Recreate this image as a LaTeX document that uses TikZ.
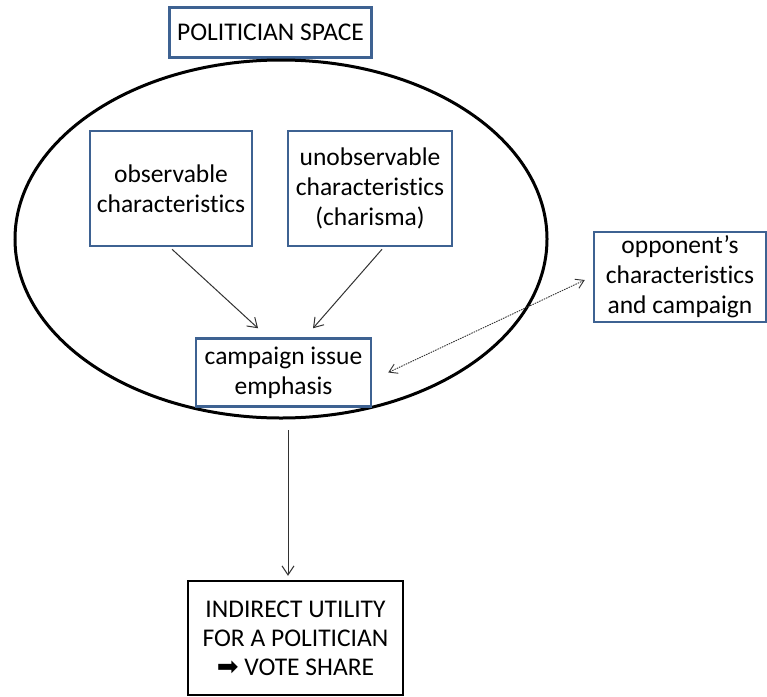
\documentclass[tikz,border=0pt]{standalone}
\usepackage{fontspec}
\setmainfont{Carlito}[Ligatures=NoCommon]
\newfontfamily\symfont{DejaVu Sans}
\usetikzlibrary{arrows.meta}
\definecolor{boxblue}{RGB}{62,98,146}
\definecolor{arrgray}{RGB}{50,50,50}
\begin{document}
\begin{tikzpicture}[x=1pt,y=-1pt,
 bluebox/.style={draw=boxblue, line width=2.5pt, align=center, inner sep=0pt, font=\fontsize{25.5}{30}\selectfont},
 blackbox/.style={draw=black, line width=2.5pt, align=center, inner sep=0pt, font=\fontsize{25.5}{29}\selectfont},
 conn/.style={draw=arrgray, line width=1pt, -{Straight Barb[length=9pt,width=12pt]}},
 dotconn/.style={draw=arrgray, line width=0.9pt, dash pattern=on 1.5pt off 1pt, {Straight Barb[length=8pt,width=10pt]}-{Straight Barb[length=8pt,width=10pt]}},
]
\useasboundingbox (0,0) rectangle (767,696);
\fill[white] (0,0) rectangle (767,696);
\node[bluebox, minimum width=202pt, minimum height=50pt] (title) at (270.5,32.5) {POLITICIAN SPACE};
\draw[line width=3pt] (281,239) ellipse [x radius=266pt, y radius=179pt];
\node[bluebox, minimum width=162pt, minimum height=115pt] (obs) at (171,188.5) {observable\\characteristics};
\node[bluebox, minimum width=164pt, minimum height=115pt] (unobs) at (370,188.5) {unobservable\\characteristics\\(charisma)};
\node[bluebox, fill=white, minimum width=175pt, minimum height=68pt] (camp) at (283.5,372.5) {campaign issue\\emphasis};
\node[bluebox, minimum width=172pt, minimum height=90pt] (opp) at (680,277) {opponent’s\\characteristics\\and campaign};
\node[blackbox, minimum width=215pt, minimum height=114pt] (util) at (295.5,638) {INDIRECT UTILITY\\FOR A POLITICIAN\\{\symfont\fontsize{26}{26}\selectfont ➡} VOTE SHARE};
\draw[conn] ([xshift=1pt,yshift=-2pt]obs.south) -- ([xshift=-25.5pt,yshift=9pt]camp.north);
\draw[conn] ([xshift=12pt,yshift=-2pt]unobs.south) -- ([xshift=29.5pt,yshift=9pt]camp.north);
\draw[dotconn] ([xshift=-8pt,yshift=-3pt]opp.west) -- ([xshift=16pt]camp.east);
\coordinate (vtop) at (288,430);
\draw[conn, shorten >=4pt] (vtop) -- (vtop |- util.north);
\end{tikzpicture}
\end{document}
